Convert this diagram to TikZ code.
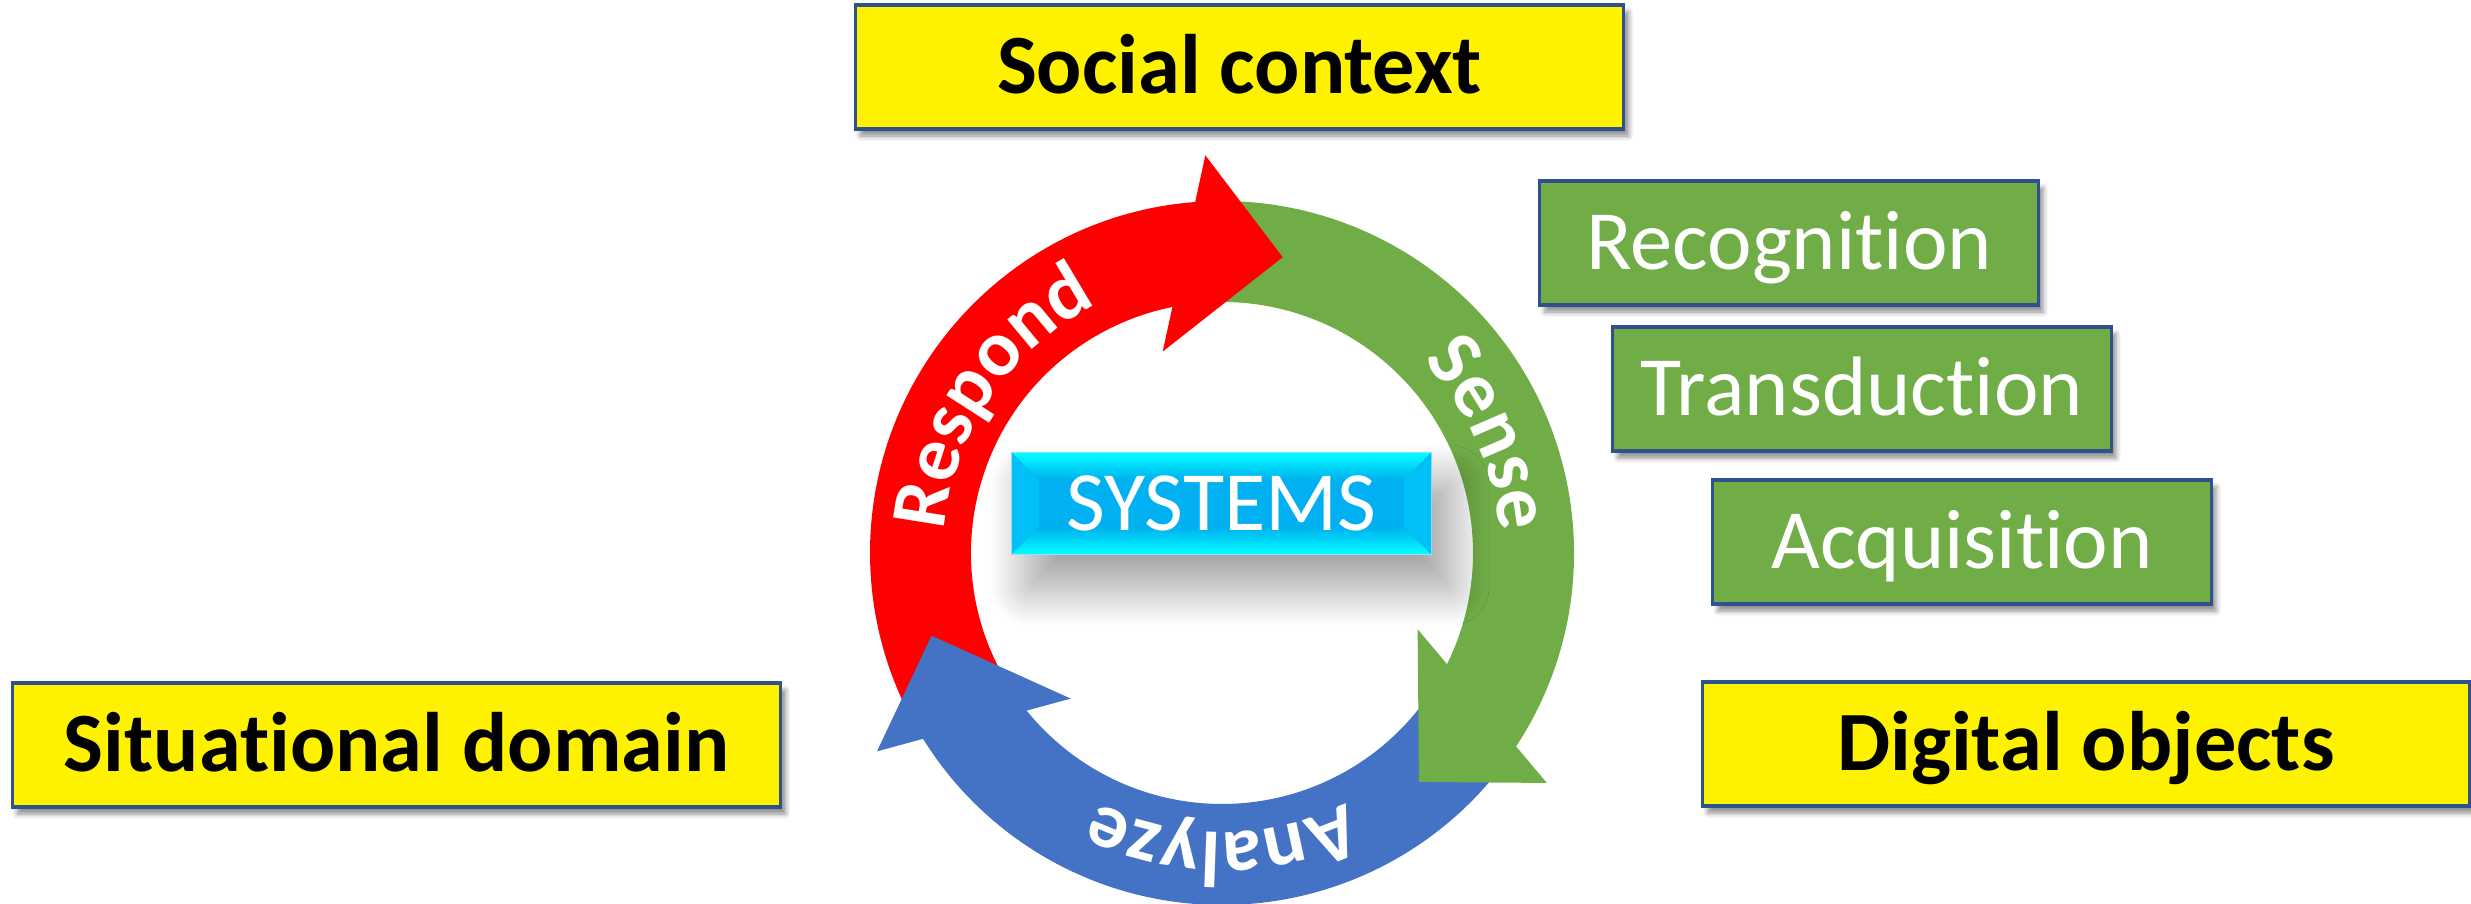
\documentclass[tikz,border=0pt]{standalone}
\usepackage{fontspec}
\setmainfont{Carlito}[Ligatures={NoCommon,NoContextual,NoRare}]
\usetikzlibrary{shadows.blur,decorations.text}
\definecolor{cycred}{RGB}{255,0,0}
\definecolor{cycgreen}{RGB}{112,173,71}
\definecolor{cycblue}{RGB}{68,114,196}
\definecolor{boxline}{RGB}{47,82,143}
\definecolor{sysblue}{RGB}{0,176,240}
\definecolor{syscyan}{RGB}{0,255,255}
\definecolor{sysside}{RGB}{0,192,246}
\newcommand\arcfont{\fontsize{22.5}{26}\selectfont\bfseries}
\tikzset{
  framebox/.style={draw=boxline, line width=0.9pt, inner sep=0pt, minimum height=1.24cm,
    text height=15.2pt, text depth=0pt,
    blur shadow={shadow xshift=0.05cm, shadow yshift=-0.07cm, shadow blur radius=0.05cm, shadow opacity=45}},
  domainbox/.style={framebox, fill=yellow, minimum width=7.68cm, font=\fontsize{24}{28}\selectfont\bfseries},
  stagebox/.style={framebox, fill=cycgreen, text=white, minimum width=4.98cm, font=\fontsize{24}{28}\selectfont},
  sysbox/.style={fill=sysblue, draw=sysblue!40!white, line width=0.3pt, inner sep=0pt,
    minimum width=4.19cm, minimum height=1.01cm,
    blur shadow={shadow xshift=0.18cm, shadow yshift=-0.32cm, shadow blur radius=0.4cm,
      shadow blur steps=24, shadow opacity=40}},
  systext/.style={text=white, inner sep=0pt, text height=15.2pt, text depth=0pt, font=\fontsize{24}{28}\selectfont},
  arclabel/.style={decorate, decoration={text along path, text align=center, text color=white, text={|\arcfont|#1}}},
}

\begin{document}
\begin{tikzpicture}[x=0.01cm, y=0.01cm]
\useasboundingbox (0,0) rectangle (2471,904);
\begin{scope}[shift={(1222,351)}]
\foreach \s/\e/\c in {91.5/210/cycred, -35/91.5/cycgreen, 210/325/cycblue}
  \fill[\c] (\s:352) arc[start angle=\s, end angle=\e, radius=352] -- (\e:251)
    arc[start angle=\e, end angle=\s, radius=251] -- cycle;
\foreach \a/\c in {78.4/cycred, -49.3/cycgreen, 195.9/cycblue}
  \fill[\c] (\a:302) -- ({\a+14}:398) -- ({\a+28}:210) -- cycle;
\path[arclabel=Respond] (186:278) arc[start angle=186, end angle=106, radius=278];
\path[arclabel=Sense] (64:278) arc[start angle=64, end angle=-16, radius=278];
\path[arclabel=Analyze] (-50:279) arc[start angle=-50, end angle=-130, radius=279];
\end{scope}
\node[sysbox] (systems) at (1221.5,400.5) {};
\shade[top color=syscyan, bottom color=sysblue] (1012,451) -- (1431,451) -- (1404,424) -- (1039,424) -- cycle;
\shade[top color=sysblue, bottom color=syscyan] (1012,350) -- (1431,350) -- (1404,377) -- (1039,377) -- cycle;
\fill[sysside] (1012,350) -- (1039,377) -- (1039,424) -- (1012,451) -- cycle;
\fill[sysside] (1431,350) -- (1404,377) -- (1404,424) -- (1431,451) -- cycle;
\node[systext] (systemslabel) at (systems) {SYSTEMS};
\node[domainbox] (social) at (1239.5,837) {Social context};
\node[domainbox] (situational) at (396.5,159) {Situational domain};
\node[domainbox, minimum width=7.66cm] (digital) at (2086,160) {Digital objects};
\node[stagebox] (recognition) at (1789,661) {Recognition};
\node[stagebox] (transduction) at (1862,515) {Transduction};
\node[stagebox] (acquisition) at (1962,362) {Acquisition};
\end{tikzpicture}
\end{document}
